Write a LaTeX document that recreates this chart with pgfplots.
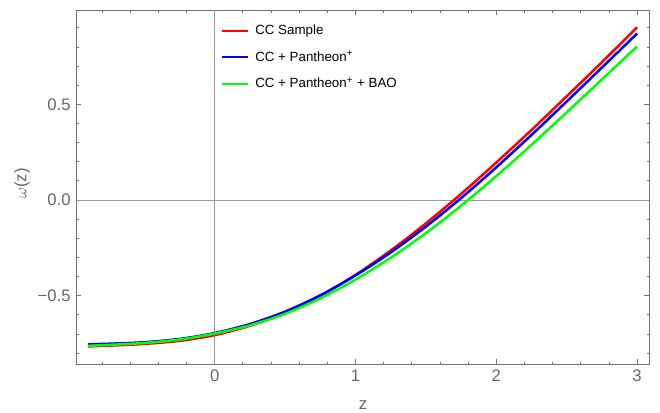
\documentclass[border=0pt]{standalone}
\usepackage{fontspec}
\setmainfont{Liberation Sans}
\usepackage{pgfplots}
\pgfplotsset{compat=1.18}

% omega(z)
\pgfplotstableread{
z      w
-0.90 -0.765
-0.75 -0.761
-0.50 -0.752
-0.25 -0.736
0.00  -0.706
0.25  -0.657
0.50  -0.589
0.75  -0.500
1.00  -0.391
1.25  -0.264
1.50  -0.122
1.75   0.032
2.00   0.196
2.25   0.366
2.50   0.542
2.75   0.720
3.00   0.903
}\cc

\pgfplotstableread{
z      w
-0.90 -0.754
-0.75 -0.751
-0.50 -0.743
-0.25 -0.726
0.00  -0.695
0.25  -0.648
0.50  -0.583
0.75  -0.498
1.00  -0.394
1.25  -0.274
1.50  -0.139
1.75   0.010
2.00   0.171
2.25   0.340
2.50   0.515
2.75   0.692
3.00   0.870
}\ccpan

\pgfplotstableread{
z      w
-0.90 -0.762
-0.75 -0.757
-0.50 -0.747
-0.25 -0.729
0.00  -0.698
0.25  -0.655
0.50  -0.595
0.75  -0.514
1.00  -0.416
1.25  -0.302
1.50  -0.173
1.75  -0.030
2.00   0.125
2.25   0.288
2.50   0.458
2.75   0.630
3.00   0.802
}\ccpanbao

\definecolor{framegray}{gray}{0.45}
\definecolor{ticktext}{gray}{0.4}

\begin{document}
\begin{tikzpicture}
\path[use as bounding box] (-45.9pt,-28.8pt) rectangle (350.1pt,218.4pt);
\begin{axis}[
    scale only axis,
    width=343.7pt,
    height=212.4pt,
    xmin=-0.982, xmax=3.087,
    ymin=-0.857, ymax=0.993,
    xtick={0,1,2,3},
    xticklabels={0,1,2,3},
    minor xtick={-0.8,-0.6,-0.4,-0.2,0.2,0.4,0.6,0.8,1.2,1.4,1.6,1.8,2.2,2.4,2.6,2.8},
    ytick={-0.5,0,0.5},
    yticklabels={−0.5,0.0,0.5},
    minor ytick={-0.8,-0.7,-0.6,-0.4,-0.3,-0.2,-0.1,0.1,0.2,0.3,0.4,0.6,0.7,0.8,0.9},
    tick align=inside,
    major tick length=3pt,
    minor tick length=1.5pt,
    every tick/.style={framegray, line width=0.5pt},
    axis line style={framegray, line width=0.6pt},
    ticklabel style={font=\fontsize{10}{12}\selectfont, text=ticktext},
    xlabel={z},
    ylabel={$\omega$(z)},
    label style={font=\fontsize{10}{12}\selectfont, text=ticktext},
    xlabel style={at={(axis description cs:0.5,-0.1158)}, anchor=center},
    ylabel style={at={(axis description cs:-0.0951,0.51)}, anchor=center},
    clip=true,
    legend style={
        draw=none, fill=none,
        at={(axis description cs:0.2437,0.976)}, anchor=north west,
        font=\fontsize{8}{9.5}\selectfont,
        row sep=5.3pt,
        nodes={inner sep=1.5pt},
        /tikz/every odd column/.append style={column sep=2pt},
    },
    legend cell align=left,
    legend image code/.code={\draw[#1, line width=1.2pt] (0pt,0pt) -- (15.6pt,0pt);},
]
\draw[black!40, line width=0.6pt] (axis cs:0,-0.857) -- (axis cs:0,0.993);
\draw[black!40, line width=0.6pt] (axis cs:-0.982,0) -- (axis cs:3.087,0);

\addplot[color={rgb,1:red,1;green,0;blue,0}, line width=1.5pt, smooth] table[x=z, y=w] {\cc};
\addlegendentry{CC Sample}
\addplot[color={rgb,1:red,0;green,0;blue,1}, line width=1.5pt, smooth] table[x=z, y=w] {\ccpan};
\addlegendentry{CC + Pantheon\textsuperscript{+}}
\addplot[color={rgb,1:red,0;green,1;blue,0}, line width=1.5pt, smooth] table[x=z, y=w] {\ccpanbao};
\addlegendentry{CC + Pantheon\textsuperscript{+} + BAO}
\end{axis}
\end{tikzpicture}
\end{document}
